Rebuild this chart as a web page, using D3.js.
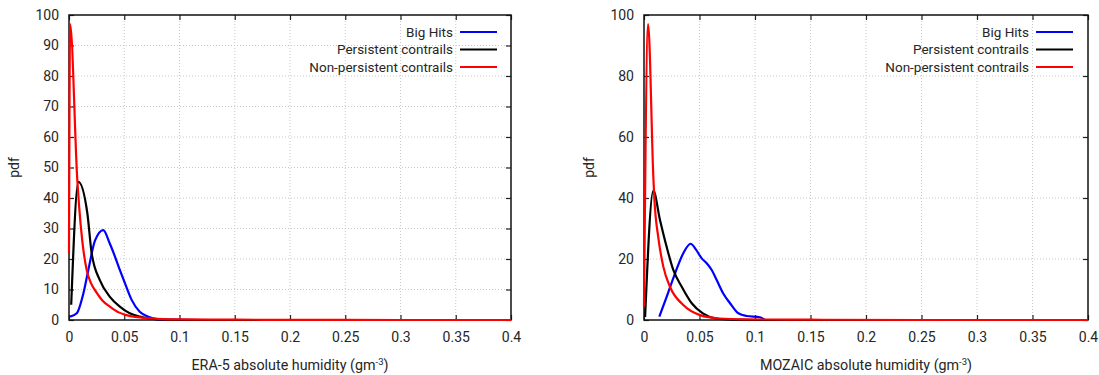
<!DOCTYPE html>
<html lang="en">
<head>
<meta charset="UTF-8">
<title>Absolute humidity pdf</title>
<script src="https://d3js.org/d3.v7.min.js"></script>
<style>
    body { margin: 0; background: #fff; }
    svg text { font-family: Roboto, "Noto Sans", sans-serif; fill: #262626; }
    .grid line { stroke: #c8c8c8; stroke-width: 1; stroke-dasharray: 1,2; }
</style>
</head>
<body>
<svg id="chart" width="1099" height="375"></svg>
<script>
    // shared tick values
    const xTicks = [0, 0.05, 0.1, 0.15, 0.2, 0.25, 0.3, 0.35, 0.4];
    const yTicksEra = [0, 10, 20, 30, 40, 50, 60, 70, 80, 90, 100];
    const yTicksMozaic = [0, 20, 40, 60, 80, 100];
    const seriesNames = ["Big Hits", "Persistent contrails", "Non-persistent contrails"];
    const seriesColors = ["#0000ff", "#000000", "#ff0000"];

    // ERA-5 panel, [humidity, pdf]
    const eraBigHits = [[0.001, 1.1], [0.007, 2.2], [0.013, 8.7], [0.0175, 16.4], [0.0235, 26], [0.031, 29.5],
        [0.037, 25], [0.0416, 20.8], [0.046, 16.4], [0.0507, 12], [0.0567, 6.6], [0.064, 2.7], [0.0718, 1.1],
        [0.079, 0.3], [0.09, 0.1], [0.12, 0], [0.4, 0]];
    const eraPersistent = [[0.002, 5], [0.0085, 45.3], [0.0166, 35], [0.0205, 21.9], [0.028, 13], [0.037, 7.6],
        [0.046, 4.4], [0.055, 2.2], [0.064, 1.1], [0.072, 0.5], [0.08, 0.2], [0.1, 0], [0.4, 0]];
    const eraNonPersistent = [[0, 22], [0.001, 97], [0.0075, 46], [0.009, 38], [0.012, 26], [0.016, 16.4],
        [0.02, 12], [0.025, 9], [0.03, 6.5], [0.037, 4.4], [0.045, 2.5], [0.052, 1.6], [0.06, 1.0],
        [0.07, 0.6], [0.08, 0.4], [0.1, 0.2], [0.15, 0.1], [0.2, 0.05], [0.3, 0], [0.4, 0]];

    // MOZAIC panel
    const mozBigHits = [[0.0138, 1.1], [0.0204, 7.6], [0.028, 15.3], [0.0354, 21.9], [0.042, 25], [0.047, 23],
        [0.052, 20.2], [0.0565, 18.6], [0.061, 16.4], [0.0655, 13.1], [0.0714, 8.7], [0.0775, 5.5],
        [0.085, 2.2], [0.0925, 1.3], [0.1045, 0.9], [0.11, 0], [0.4, 0]];
    const mozPersistent = [[0.001, 1], [0.0084, 42.4], [0.0144, 32.8], [0.0204, 24], [0.0264, 16.4], [0.034, 10.9],
        [0.043, 5.5], [0.053, 2.2], [0.065, 0.5], [0.08, 0.1], [0.1, 0], [0.4, 0]];
    const mozNonPersistent = [[0, 4.4], [0.0037, 97], [0.0084, 47], [0.0093, 40], [0.0129, 27], [0.0174, 17.5],
        [0.0234, 10.9], [0.0354, 4.9], [0.0505, 1.6], [0.068, 0.5], [0.09, 0.2], [0.15, 0.1], [0.25, 0], [0.4, 0]];

    const svg = d3.select("#chart");

    function drawPanel(opt) {
        const g = svg.append("g");
        const x = d3.scaleLinear().domain([0, 0.4]).range([opt.left, opt.right]);
        const y = d3.scaleLinear().domain([0, 100]).range([opt.bottom, opt.top]);

        // dotted grid
        const grid = g.append("g").attr("class", "grid");
        grid.selectAll("line.v").data(xTicks.slice(1, -1)).enter().append("line")
            .attr("x1", d => x(d)).attr("x2", d => x(d))
            .attr("y1", opt.top).attr("y2", opt.bottom);
        grid.selectAll("line.h").data(opt.yTicks.slice(1, -1)).enter().append("line")
            .attr("x1", opt.left).attr("x2", opt.right)
            .attr("y1", d => y(d)).attr("y2", d => y(d));

        // axes with inward ticks, mirrored on top and right
        const tickLen = 5;
        g.append("g").attr("transform", `translate(0,${opt.bottom})`)
            .call(d3.axisBottom(x).tickValues(xTicks).tickSizeInner(-tickLen).tickSizeOuter(0).tickPadding(12)
                .tickFormat(d => d === 0 ? "0" : d3.format("")(+d.toFixed(2))));
        g.append("g").attr("transform", `translate(0,${opt.top})`)
            .call(d3.axisTop(x).tickValues(xTicks).tickSizeInner(-tickLen).tickSizeOuter(0).tickFormat(""));
        g.append("g").attr("transform", `translate(${opt.left},0)`)
            .call(d3.axisLeft(y).tickValues(opt.yTicks).tickSizeInner(-tickLen).tickSizeOuter(0).tickPadding(10));
        g.append("g").attr("transform", `translate(${opt.right},0)`)
            .call(d3.axisRight(y).tickValues(opt.yTicks).tickSizeInner(-tickLen).tickSizeOuter(0).tickFormat(""));
        g.selectAll(".domain").remove();
        g.selectAll(".tick line").attr("stroke", "#222").attr("stroke-width", 1.2);
        g.selectAll(".tick text").attr("font-size", 14).attr("fill", "#262626");

        // frame
        g.append("rect")
            .attr("x", opt.left).attr("y", opt.top)
            .attr("width", opt.right - opt.left).attr("height", opt.bottom - opt.top)
            .attr("fill", "none").attr("stroke", "#111").attr("stroke-width", 1.5);

        // curves
        const line = d3.line().x(d => x(d[0])).y(d => y(d[1])).curve(d3.curveMonotoneX);
        opt.series.forEach((s, i) => {
            g.append("path").datum(s)
                .attr("d", line)
                .attr("fill", "none")
                .attr("stroke", seriesColors[i])
                .attr("stroke-width", 2.2)
                .attr("stroke-linejoin", "round");
        });

        // legend
        const lg = g.append("g");
        seriesNames.forEach((name, i) => {
            const ly = opt.top + 17 + i * 17.5;
            lg.append("text")
                .attr("x", opt.legendX).attr("y", ly)
                .attr("dy", "0.35em")
                .attr("text-anchor", "end")
                .attr("font-size", 13.5)
                .text(name);
            lg.append("line")
                .attr("x1", opt.legendX + 7).attr("x2", opt.legendX + 44)
                .attr("y1", ly).attr("y2", ly)
                .attr("stroke", seriesColors[i]).attr("stroke-width", 2.2);
        });

        // axis titles
        const xt = g.append("text")
            .attr("x", (opt.left + opt.right) / 2).attr("y", 370)
            .attr("text-anchor", "middle").attr("font-size", 14.3);
        xt.append("tspan").text(opt.xTitle + " (gm");
        xt.append("tspan").attr("dy", -5).attr("font-size", 9.5).text("-3");
        xt.append("tspan").attr("dy", 5).text(")");

        g.append("text")
            .attr("transform", `translate(${opt.left - 50},${(opt.top + opt.bottom) / 2}) rotate(-90)`)
            .attr("text-anchor", "middle").attr("font-size", 14)
            .text("pdf");
    }

    drawPanel({
        left: 69, right: 511, top: 15, bottom: 320,
        yTicks: yTicksEra, legendX: 453,
        xTitle: "ERA-5 absolute humidity",
        series: [eraBigHits, eraPersistent, eraNonPersistent]
    });

    drawPanel({
        left: 644, right: 1088, top: 15, bottom: 320,
        yTicks: yTicksMozaic, legendX: 1029,
        xTitle: "MOZAIC absolute humidity",
        series: [mozBigHits, mozPersistent, mozNonPersistent]
    });
</script>
</body>
</html>
